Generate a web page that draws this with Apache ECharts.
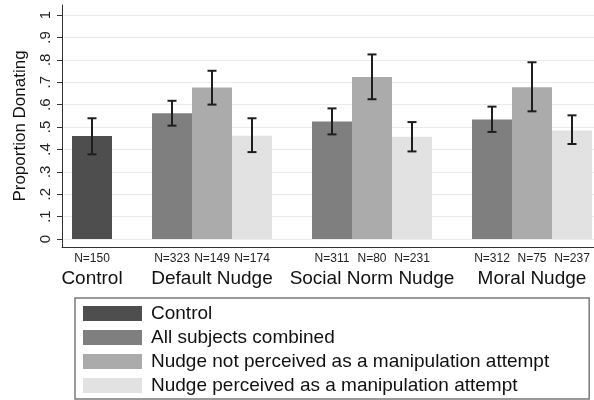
<!DOCTYPE html>
<html><head><meta charset="utf-8">
<script src="https://cdn.jsdelivr.net/npm/echarts@6/dist/echarts.min.js"></script>
<style>html,body{margin:0;padding:0;background:#fff}#c{width:594px;height:400px}</style>
</head><body><div id="c"></div>
<script>
// ---- data ----
const groups = ['Control', 'Default Nudge', 'Social Norm Nudge', 'Moral Nudge'];
const seriesNames = ['Control', 'All subjects combined',
  'Nudge not perceived as a manipulation attempt', 'Nudge perceived as a manipulation attempt'];

const controlMean = [0.460];
const controlLow  = [0.378];
const controlHigh = [0.539];
const controlN    = [150];

// order of nudge groups: Default, Social Norm, Moral
const allMean  = [0.561, 0.524, 0.534];
const allLow   = [0.506, 0.467, 0.478];
const allHigh  = [0.617, 0.583, 0.591];
const allN     = [323, 311, 312];

const notMean  = [0.676, 0.723, 0.677];
const notLow   = [0.600, 0.624, 0.570];
const notHigh  = [0.751, 0.824, 0.789];
const notN     = [149, 80, 75];

const percMean = [0.461, 0.457, 0.484];
const percLow  = [0.388, 0.391, 0.424];
const percHigh = [0.539, 0.522, 0.552];
const percN    = [174, 231, 237];

const yTicks      = [0, 0.1, 0.2, 0.3, 0.4, 0.5, 0.6, 0.7, 0.8, 0.9, 1];
const yTickLabels = ['0', '.1', '.2', '.3', '.4', '.5', '.6', '.7', '.8', '.9', '1'];

const colors = ['#4e4e4e', '#7f7f7f', '#ababab', '#e2e2e2'];
const FONT = 'Liberation Sans, Arial, sans-serif';

// ---- build slot layout (control bar, gap, 3 bars, gap, ...) ----
const barSets = [
  { mean: controlMean, low: controlLow, high: controlHigh, n: controlN, start: 0, step: 4, off: 0 },
  { mean: allMean,  low: allLow,  high: allHigh,  n: allN,  start: 2, step: 4, off: 0 },
  { mean: notMean,  low: notLow,  high: notHigh,  n: notN,  start: 2, step: 4, off: 1 },
  { mean: percMean, low: percLow, high: percHigh, n: percN, start: 2, step: 4, off: 2 }
];
const nLabelMap = {};
const errData = [];
const barSeries = barSets.map((s, k) => {
  const data = s.mean.map((m, g) => {
    const slot = s.start + s.step * g + s.off;
    nLabelMap[slot] = 'N=' + s.n[g];
    errData.push([slot, s.low[g], s.high[g]]);
    return [slot, m];
  });
  return {
    name: seriesNames[k], type: 'bar', data: data, barWidth: 40, barGap: '-100%',
    itemStyle: { color: colors[k] }, xAxisIndex: 0, yAxisIndex: 0
  };
});
const groupLabelMap = {0: groups[0]};
for (let g = 1; g < groups.length; g++) groupLabelMap[2 + 4 * (g - 1) + 1] = groups[g];
const nSlots = Object.keys(nLabelMap).map(Number);
const gSlots = Object.keys(groupLabelMap).map(Number);

const chart = echarts.init(document.getElementById('c'), null, { renderer: 'canvas' });
const xMin = -0.75, xMax = 12.55;
chart.setOption({
  animation: false,
  textStyle: { fontFamily: FONT },
  grid: { left: 62, right: 0, top: 5, bottom: 153, containLabel: false },
  legend: {
    data: seriesNames, orient: 'vertical', left: 75, top: 298,
    padding: [6, 40, 4, 8], itemGap: 5, itemWidth: 59, itemHeight: 15,
    borderColor: '#7a7a7a', borderWidth: 1.5, borderRadius: 0,
    icon: 'rect', selectedMode: false,
    textStyle: { fontFamily: FONT, fontSize: 19, lineHeight: 19, color: '#111', padding: [0, 0, 0, 4] }
  },
  xAxis: [
    {
      type: 'value', min: xMin, max: xMax, position: 'bottom',
      axisLine: { show: true, onZero: false, lineStyle: { color: '#333', width: 1 } },
      axisTick: { show: false }, splitLine: { show: false },
      axisLabel: {
        customValues: nSlots, margin: 6, fontSize: 12, color: '#222', fontFamily: FONT,
        formatter: v => nLabelMap[Math.round(v)] || ''
      }
    },
    {
      type: 'value', min: xMin, max: xMax, position: 'bottom',
      axisLine: { show: false }, axisTick: { show: false }, splitLine: { show: false },
      axisLabel: {
        customValues: gSlots, margin: 22, fontSize: 19, color: '#111', fontFamily: FONT,
        formatter: v => groupLabelMap[Math.round(v)] || ''
      }
    }
  ],
  yAxis: {
    type: 'value', min: -8 / 224, max: 1 + 10 / 224,
    name: 'Proportion Donating', nameLocation: 'middle', nameGap: 33,
    nameTextStyle: { fontSize: 17, color: '#111', fontFamily: FONT },
    axisLine: { show: true, onZero: false, lineStyle: { color: '#333', width: 1 } },
    axisTick: { show: true, length: 5, customValues: yTicks, lineStyle: { color: '#333' } },
    axisLabel: {
      customValues: yTicks, rotate: 90, margin: 9, fontSize: 15, color: '#222', fontFamily: FONT,
      formatter: v => { const i = yTicks.findIndex(t => Math.abs(t - v) < 1e-6); return i >= 0 ? yTickLabels[i] : ''; }
    },
    splitLine: { show: true, lineStyle: { color: '#ebebeb', width: 1 } }
  },
  series: barSeries.concat([{
    name: 'CI', type: 'custom', xAxisIndex: 0, yAxisIndex: 0, z: 10,
    data: errData, encode: { x: 0, y: [1, 2] },
    renderItem: function (params, api) {
      const x = api.value(0);
      const top = api.coord([x, api.value(2)]);
      const bot = api.coord([x, api.value(1)]);
      const hw = 4.5;
      const st = { stroke: '#1e1e1e', lineWidth: 2 };
      return {
        type: 'group', children: [
          { type: 'line', shape: { x1: top[0], y1: top[1], x2: bot[0], y2: bot[1] }, style: st },
          { type: 'line', shape: { x1: top[0] - hw, y1: top[1], x2: top[0] + hw, y2: top[1] }, style: st },
          { type: 'line', shape: { x1: bot[0] - hw, y1: bot[1], x2: bot[0] + hw, y2: bot[1] }, style: st }
        ]
      };
    }
  }])
});
</script>
</body></html>
